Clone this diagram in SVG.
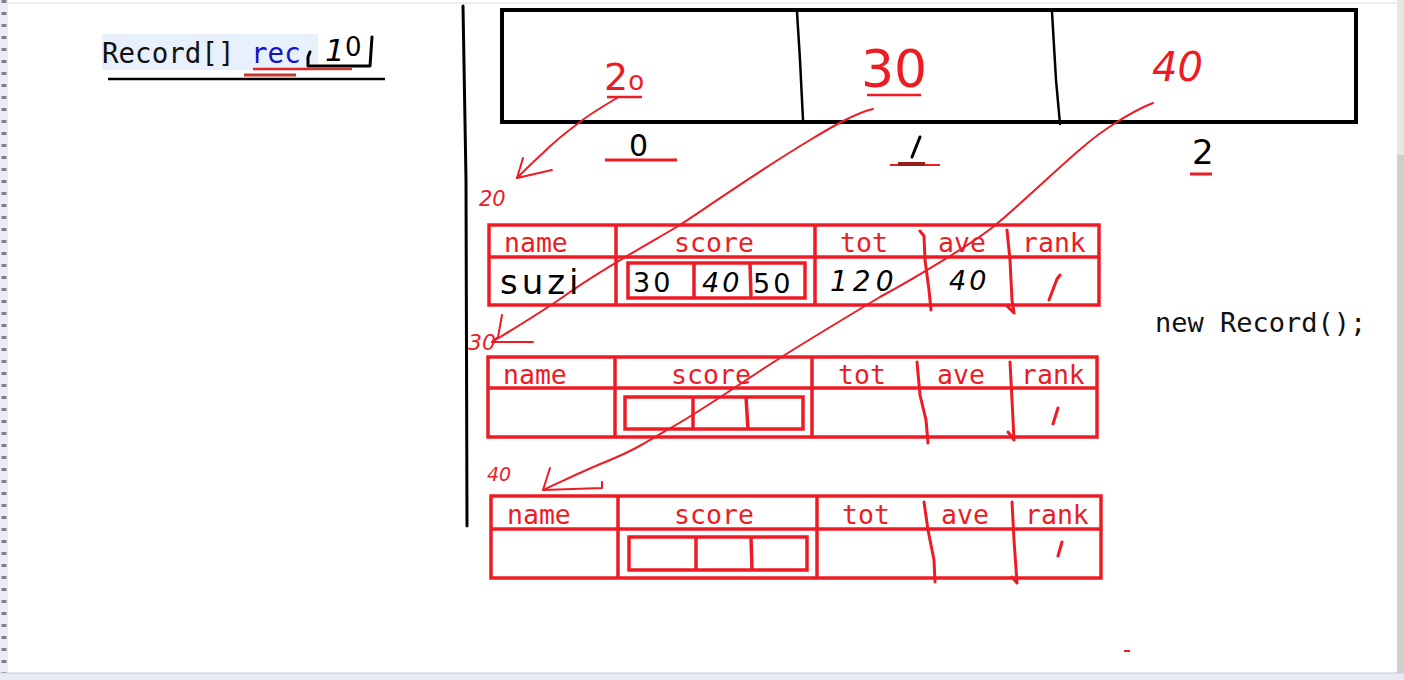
<svg xmlns="http://www.w3.org/2000/svg" width="1404" height="680" viewBox="0 0 1404 680">
<style>
.mono{font-family:"DejaVu Sans Mono","Liberation Mono",monospace}
.hand{font-family:"DejaVu Sans","Liberation Sans",sans-serif}
.rl{stroke:#ed1c24;fill:none;stroke-linecap:round;stroke-linejoin:round}
.bl{stroke:#000;fill:none;stroke-linecap:round;stroke-linejoin:round}
.tb{stroke:#ed1c24;stroke-width:3.5;fill:none}
.hd{font-family:"DejaVu Sans Mono","Liberation Mono",monospace;font-size:26.5px;fill:#ed1c24}
.red{fill:#ed1c24}
.val{font-family:"DejaVu Sans","Liberation Sans",sans-serif;fill:#000}
</style>
<rect width="1404" height="680" fill="#fff"/>
<!-- frame -->
<line x1="0" y1="3" x2="1404" y2="3" stroke="#d8dce4" stroke-width="1"/>
<rect x="0" y="0" width="8" height="676" fill="#e9ecf2"/>
<line x1="4" y1="0" x2="4" y2="676" stroke="#7d828c" stroke-width="5" stroke-dasharray="3,9"/>
<rect x="1397" y="0" width="7" height="676" fill="#e6e6e6"/>
<rect x="1397" y="155" width="7" height="520" fill="#cfcfcf"/>
<rect x="0" y="673" width="1404" height="7" fill="#e8ebf2"/>
<line x1="0" y1="673" x2="1404" y2="673" stroke="#c4cad6" stroke-width="1"/>

<g id="declaration">
<rect x="102" y="34" width="216" height="36" fill="#e8f0fb"/>
<text class="mono" x="102" y="63" font-size="27.5" fill="#111">Record[] <tspan fill="#1414c8">rec</tspan></text>
<path class="bl" stroke-width="3" d="M310,52 L308,57 L308,66 L370,66 L372,37"/>
<text class="hand" x="325" y="61" font-size="31" fill="#000" font-style="italic">1</text>
<text class="hand" x="345" y="56" font-size="26" fill="#000">0</text>
<line x1="253" y1="69" x2="307" y2="69" stroke="#ed1c24" stroke-width="2.5"/>
<line x1="307" y1="69" x2="352" y2="69" stroke="#c0392b" stroke-width="2.5"/>
<line x1="244" y1="75" x2="296" y2="75" stroke="#c0392b" stroke-width="3"/>
<line x1="108" y1="79" x2="385" y2="79" stroke="#000" stroke-width="2.5"/>
</g>

<g id="pointer-line">
<path class="bl" stroke-width="3" d="M463,6 L466,180 L467,526"/>
</g>

<g id="array">
<rect x="502" y="10" width="854" height="112" fill="none" stroke="#000" stroke-width="4"/>
<path class="bl" stroke-width="2.5" d="M797,12 L800,60 L803,120"/>
<path class="bl" stroke-width="2.5" d="M1052,12 L1056,80 L1060,124"/>
<text class="hand red" x="604" y="90" font-size="38">2<tspan font-size="26">o</tspan></text>
<line x1="607" y1="97" x2="642" y2="97" stroke="#ed1c24" stroke-width="2.5"/>
<text class="hand red" x="861" y="87" font-size="52">30</text>
<line x1="867" y1="95" x2="921" y2="95" stroke="#ed1c24" stroke-width="2.5"/>
<text class="hand red" x="1152" y="81" font-size="40" font-style="italic">40</text>
<text class="hand" x="629" y="156" font-size="30" fill="#000">0</text>
<line x1="605" y1="160" x2="677" y2="160" stroke="#ed1c24" stroke-width="3"/>
<path class="bl" stroke-width="3" d="M920,137 L912,157"/>
<line x1="890" y1="165" x2="940" y2="165" stroke="#ed1c24" stroke-width="2"/>
<line x1="898" y1="164" x2="925" y2="164" stroke="#9b1a1a" stroke-width="4"/>
<text class="hand" x="1192" y="164" font-size="34" fill="#000">2</text>
<line x1="1190" y1="174" x2="1212" y2="174" stroke="#ed1c24" stroke-width="3"/>
</g>

<g id="connectors">
<path class="rl" stroke-width="2" d="M617,98 C600,108 590,114 580,122 C565,133 550,146 543,153 C532,163 524,171 517,178"/>
<path class="rl" stroke-width="2" d="M523,158 L517,178 L552,170"/>
<path class="rl" stroke-width="2" d="M873,109 C855,113 830,128 810,140 C760,170 700,212 680,225 C650,243 600,270 563,297 C540,313 515,328 492,342"/>
<path class="rl" stroke-width="2" d="M502,315 L498,337 L492,342 L533,342"/>
<path class="rl" stroke-width="2" d="M1153,103 C1130,112 1100,132 1083,147 C1060,166 1020,205 993,227 C970,245 915,278 880,297 C850,315 800,345 777,360 C745,380 700,412 667,430 C640,446 630,452 610,460 C585,470 565,480 543,490"/>
<path class="rl" stroke-width="2" d="M550,468 L543,490 L602,488 L602,482"/>
</g>

<g id="labels">
<text class="hand red" x="479" y="206" font-size="21" font-style="italic">20</text>
<text class="hand red" x="468" y="350" font-size="22" font-style="italic">30</text>
<text class="hand red" x="487" y="481" font-size="19" font-style="italic">40</text>
<line x1="1124" y1="651" x2="1130" y2="651" stroke="#ed1c24" stroke-width="2"/>
</g>

<g id="record-0">
<rect class="tb" x="489" y="225" width="610" height="80"/>
<line class="tb" x1="489" y1="257" x2="1099" y2="257"/>
<line class="tb" x1="616" y1="225" x2="616" y2="305"/>
<line class="tb" x1="815" y1="225" x2="815" y2="305"/>
<path class="rl" stroke-width="3" d="M920,231 L924,236 L925,260 L929,290 L931,310"/>
<path class="rl" stroke-width="3" d="M1007,230 L1010,260 L1012,300 L1014,313 L1007,306"/>
<rect class="tb" x="628" y="263" width="177" height="35"/>
<line class="tb" x1="694" y1="263" x2="694" y2="298"/>
<line class="tb" x1="750" y1="263" x2="751" y2="298"/>
<text class="hd" x="504" y="252">name</text>
<text class="hd" x="714" y="252" text-anchor="middle">score</text>
<text class="hd" x="840" y="252">tot</text>
<text class="hd" x="938" y="252">ave</text>
<text class="hd" x="1022" y="252">rank</text>
<text class="val" x="500" y="294" font-size="34" letter-spacing="4">suzi</text>
<text class="val" x="633" y="292" font-size="27" letter-spacing="3">30</text>
<text class="val" x="702" y="292" font-size="27" letter-spacing="3" font-style="italic">40</text>
<text class="val" x="753" y="293" font-size="27" letter-spacing="3">50</text>
<text class="val" x="830" y="291" font-size="28" letter-spacing="5" font-style="italic">120</text>
<text class="val" x="949" y="290" font-size="27" letter-spacing="3" font-style="italic">40</text>
<path class="rl" stroke-width="3" d="M1060,275 L1057,279 L1049,300"/>
</g>

<g id="record-1">
<rect class="tb" x="488" y="357" width="609" height="80"/>
<line class="tb" x1="488" y1="388" x2="1097" y2="388"/>
<line class="tb" x1="615" y1="357" x2="615" y2="437"/>
<line class="tb" x1="812" y1="357" x2="812" y2="437"/>
<path class="rl" stroke-width="3" d="M917,362 L920,395 L926,420 L928,443"/>
<path class="rl" stroke-width="3" d="M1010,362 L1012,400 L1014,440 L1008,432"/>
<rect class="tb" x="625" y="397" width="178" height="32"/>
<line class="tb" x1="693" y1="397" x2="693" y2="429"/>
<line class="tb" x1="746" y1="397" x2="748" y2="429"/>
<text class="hd" x="503" y="384">name</text>
<text class="hd" x="711" y="384" text-anchor="middle">score</text>
<text class="hd" x="838" y="384">tot</text>
<text class="hd" x="937" y="384">ave</text>
<text class="hd" x="1021" y="384">rank</text>
<path class="rl" stroke-width="3" d="M1058,408 L1053,424"/>
</g>

<g id="record-2">
<rect class="tb" x="491" y="496" width="610" height="82"/>
<line class="tb" x1="491" y1="529" x2="1101" y2="529"/>
<line class="tb" x1="618" y1="496" x2="618" y2="578"/>
<line class="tb" x1="817" y1="496" x2="817" y2="578"/>
<path class="rl" stroke-width="3" d="M924,502 L928,530 L934,560 L935,582"/>
<path class="rl" stroke-width="3" d="M1012,502 L1014,540 L1017,583 L1012,577"/>
<rect class="tb" x="629" y="537" width="178" height="33"/>
<line class="tb" x1="696" y1="537" x2="696" y2="570"/>
<line class="tb" x1="751" y1="537" x2="752" y2="570"/>
<text class="hd" x="507" y="524">name</text>
<text class="hd" x="714" y="524" text-anchor="middle">score</text>
<text class="hd" x="842" y="524">tot</text>
<text class="hd" x="941" y="524">ave</text>
<text class="hd" x="1025" y="524">rank</text>
<path class="rl" stroke-width="3" d="M1062,542 L1058,556"/>
</g>

<g id="new-record">
<text class="mono" x="1155" y="332" font-size="27" fill="#111">new Record();</text>
</g>
</svg>
